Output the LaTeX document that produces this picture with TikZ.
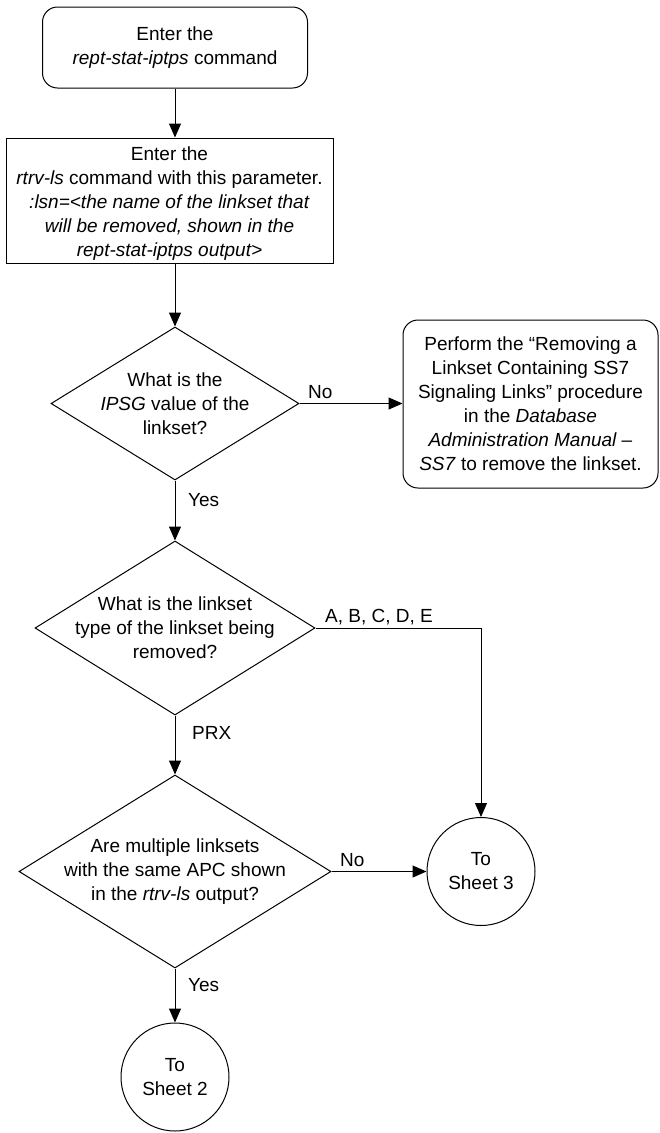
\documentclass[tikz,border=0pt]{standalone}
\usepackage{fontspec}
\setmainfont{Liberation Sans}
\usetikzlibrary{shapes.geometric,arrows.meta}
\begin{document}
\begin{tikzpicture}[x=1pt,y=-1pt,
  every node/.style={font=\fontsize{19}{24}\selectfont},
  arr/.style={line width=1pt, -{Triangle[length=14pt,width=12pt]}},
  rbox/.style={draw, line width=1pt, rounded corners=15pt, inner sep=0pt, align=center},
  sbox/.style={draw, line width=1pt, inner sep=0pt, align=center},
  dia/.style={draw, line width=1pt, diamond, inner sep=0pt},
  conn/.style={draw, line width=1pt, circle, inner sep=0pt, minimum size=108pt, align=center},
  lbl/.style={inner sep=0pt, anchor=base west}]
\useasboundingbox (0,0) rectangle (660,1133);
% boxes
\node[rbox, minimum width=265pt, minimum height=81pt] (b1) at (175,47.5)
  {Enter the\\\textit{rept-stat-iptps} command};
\node[sbox, minimum width=327pt, minimum height=125pt] (b2) at (169.5,200.5) {};
\node[align=center, inner sep=0pt] (tb2) at (169.5,204)
  {Enter the\\\textit{rtrv-ls} command with this parameter.\\\textit{:lsn=<the name of the linkset that}\\\textit{will be removed, shown in the}\\\textit{rept-stat-iptps output>}};
\node[rbox, minimum width=255pt, minimum height=168pt] (r1) at (530.5,404)
  {Perform the “Removing a\\Linkset Containing SS7\\Signaling Links” procedure\\in the \textit{Database}\\\textit{Administration Manual –}\\\textit{SS7} to remove the linkset.};
% decisions
\node[dia, minimum width=248pt, minimum height=153pt] (d1) at (175,403.5) {};
\node[align=center, inner sep=0pt] (t1) at (d1.center) {What is the\\\textit{IPSG} value of the\\linkset?};
\node[dia, minimum width=280pt, minimum height=174pt] (d2) at (175,628) {};
\node[align=center, inner sep=0pt] (t2) at (d2.center) {What is the linkset\\type of the linkset being\\removed?};
\node[dia, minimum width=312pt, minimum height=193pt] (d3) at (175,871.5) {};
\node[align=center, inner sep=0pt] (t3) at (d3.center) {Are multiple linksets\\with the same APC shown\\in the \textit{rtrv-ls} output?};
% connectors
\node[conn] (s3) at (481,871.5) {To\\Sheet 3};
\node[conn] (s2) at (175,1077) {To\\Sheet 2};
% arrows
\draw[arr] (b1.south) -- (b1.south |- b2.north);
\draw[arr] (b2.south -| d1.north) -- (d1.north);
\draw[arr] (d1.east) -- (r1.west |- d1.east);
\draw[arr] (d1.south) -- (d2.north);
\draw[arr] (d2.east) -| (s3.north);
\draw[arr] (d2.south) -- (d3.north);
\draw[arr] (d3.east) -- (s3.west);
\draw[arr] (d3.south) -- (s2.north);
% labels
\node[lbl] (lno1) at (308,398.5) {No};
\node[lbl] (lyes1) at (188,506.5) {Yes};
\node[lbl] (labc) at (325,622) {A, B, C, D, E};
\node[lbl] (lprx) at (192,739.5) {PRX};
\node[lbl] (lno3) at (340,866.5) {No};
\node[lbl] (lyes3) at (188,991.5) {Yes};
\end{tikzpicture}
\end{document}
